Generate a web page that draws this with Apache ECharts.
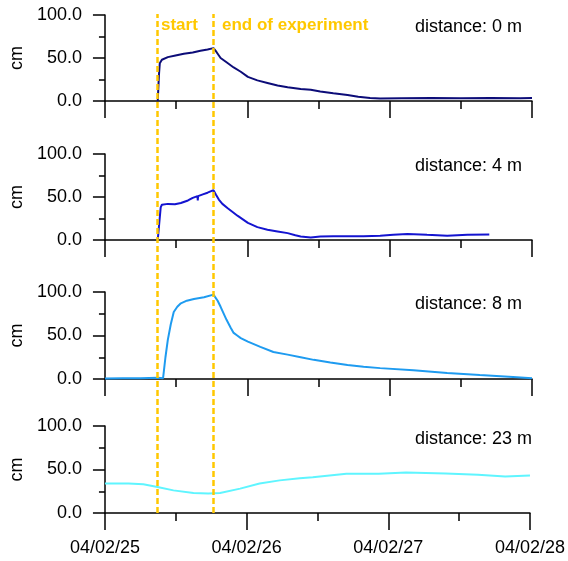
<!DOCTYPE html>
<html>
<head>
<meta charset="utf-8">
<script src="https://cdn.jsdelivr.net/npm/echarts@6/dist/echarts.min.js"></script>
<style>
  html, body { margin: 0; padding: 0; background: #fff; }
  #chart { width: 568px; height: 561px; }
</style>
</head>
<body>
<div id="chart"></div>
<script>
// hours since 04/02/25 00:00
const dayLabels = ['04/02/25', '04/02/26', '04/02/27', '04/02/28'];
const eventHours = [8.9, 18.3]; // start, end of experiment
const eventNames = ['start', 'end of experiment'];
const distances = ['distance: 0 m', 'distance: 4 m', 'distance: 8 m', 'distance: 23 m'];
const colors = ['#0c0c78', '#1414d0', '#1e9bf0', '#5ff5ff'];

const hours0 = [8.9, 9.1, 9.25, 9.6, 10.6, 11.9, 13.3, 14.8, 16.1, 17.3, 18.3, 18.8, 19.5, 20.5, 21.7, 22.9, 24.1, 25.7, 27.4, 29.1, 30.8, 33.0, 34.7, 36.3, 38.5, 40.9, 42.7, 44.7, 46.4, 50, 55, 60, 65, 70, 72];
const level0 = [0, 30, 44, 48, 51, 53, 55, 56.5, 58.5, 60, 61.5, 57, 50, 45, 39, 34, 28, 24, 21, 18, 16, 14, 13, 11, 9, 7, 5, 3.5, 3, 3.2, 3.5, 3.2, 3.6, 3.3, 3.4];

const hours4 = [8.9, 9.4, 9.6, 10.6, 11.8, 12.8, 14.0, 14.8, 15.6, 15.65, 15.7, 16.5, 17.3, 18.3, 18.7, 19.2, 19.8, 20.7, 22.4, 24.1, 25.7, 27.4, 29.1, 30.8, 32.1, 33.0, 34.7, 36.3, 38.5, 40.9, 43.6, 46.4, 48.6, 51, 53.2, 54.3, 57.7, 61.1, 64.8];
const level4 = [0, 38, 41, 42, 41.5, 43, 46, 49, 51, 46, 51, 53, 55, 58, 53, 47, 42, 37, 28, 20, 15, 12, 10, 8, 5.5, 4, 3, 4, 4.5, 4.5, 4.5, 5, 6, 7, 6.5, 6, 5, 6, 6.5];

const hours8 = [0, 3, 6, 8.9, 9.8, 10.2, 10.6, 11.1, 11.6, 12.2, 12.8, 13.8, 15.0, 16.7, 18.3, 19.0, 19.5, 20.5, 21.2, 21.7, 22.3, 22.9, 24.1, 26.2, 28.4, 30.8, 33.0, 35.2, 38.0, 40.9, 43.6, 46.4, 52, 57.7, 63.2, 68.8, 72];
const level8 = [0.5, 0.8, 1, 1.5, 1, 25, 45, 63, 77, 83, 87, 90, 92, 94, 97, 90, 83, 68, 59, 53, 50, 47, 43, 37, 31, 28, 25, 22, 19, 16, 14, 12.5, 10, 7, 4.6, 2.3, 1];

const hours23 = [0, 4, 6.5, 8.9, 11.6, 15.0, 17.5, 19.5, 22.9, 26.2, 29.6, 33.0, 35.2, 40.9, 46.4, 51, 57.7, 63.2, 67.8, 72];
const level23 = [34, 34, 33, 30, 26, 23, 22.5, 23, 28, 34, 37.5, 40, 41, 45, 45, 46.5, 45.5, 44, 42, 43];

const seriesHours = [hours0, hours4, hours8, hours23];
const seriesLevels = [level0, level4, level8, level23];

const font = 'Arial, "Liberation Sans", sans-serif';
const panelTops = [15, 154, 292, 426];
const panelHeights = [86, 86, 87, 87];

const grids = panelTops.map((t, i) => ({ left: 104, right: 36, top: t, height: panelHeights[i] }));
grids.push({ left: 104, right: 36, top: 14, height: 499 });

const xAxes = panelTops.map((t, i) => ({
  type: 'value', gridIndex: i, min: 0, max: 72, interval: 24,
  axisLine: { show: true, onZero: false, lineStyle: { color: '#000', width: 1.5 } },
  axisTick: { show: true, length: 17, lineStyle: { color: '#000', width: 1.5 } },
  minorTick: { show: true, splitNumber: 2, length: 8, lineStyle: { color: '#000', width: 1.5 } },
  splitLine: { show: false },
  axisLabel: {
    show: i === 3, margin: 26, fontSize: 18, fontFamily: font, color: '#000',
    formatter: v => dayLabels[Math.round(v / 24)]
  }
}));
xAxes.push({ type: 'value', gridIndex: 4, min: 0, max: 72, show: false });

const yAxes = panelTops.map((t, i) => ({
  type: 'value', gridIndex: i, min: 0, max: 100, interval: 50,
  name: 'cm', nameLocation: 'middle', nameGap: 72,
  nameTextStyle: { fontSize: 18, fontFamily: font, color: '#000' },
  axisLine: { show: true, lineStyle: { color: '#000', width: 1.5 } },
  axisTick: { show: true, length: 12, lineStyle: { color: '#000', width: 1.5 } },
  minorTick: { show: true, splitNumber: 2, length: 6, lineStyle: { color: '#000', width: 1.5 } },
  splitLine: { show: false },
  axisLabel: { margin: 23, fontSize: 18, fontFamily: font, color: '#000', formatter: v => v.toFixed(1) }
}));
yAxes.push({ type: 'value', gridIndex: 4, min: 0, max: 1, show: false });

const series = seriesHours.map((hrs, i) => ({
  type: 'line', xAxisIndex: i, yAxisIndex: i, showSymbol: false, symbol: 'none',
  data: hrs.map((h, k) => [h, seriesLevels[i][k]]),
  lineStyle: { color: colors[i], width: 2 },
  animation: false
}));
series.push({
  type: 'line', xAxisIndex: 4, yAxisIndex: 4, data: [], animation: false,
  markLine: {
    symbol: 'none', silent: true, animation: false,
    label: { show: false },
    lineStyle: { color: '#ffc800', type: [6, 3], width: 2.5 },
    data: eventHours.map(h => ({ xAxis: h }))
  }
});

const titles = distances.map((d, i) => ({
  text: d, left: 415, top: [18, 157, 295, 430][i], padding: 0,
  textStyle: { fontSize: 18, fontWeight: 'normal', fontFamily: font, color: '#000' }
}));
eventNames.forEach((n, i) => titles.push({
  text: n, left: [161, 222][i], top: 17, padding: 0,
  textStyle: { fontSize: 17, fontWeight: 'bold', fontFamily: font, color: '#ffc800' }
}));

const chart = echarts.init(document.getElementById('chart'));
chart.setOption({
  animation: false,
  title: titles,
  grid: grids,
  xAxis: xAxes,
  yAxis: yAxes,
  series: series
});
</script>
</body>
</html>
